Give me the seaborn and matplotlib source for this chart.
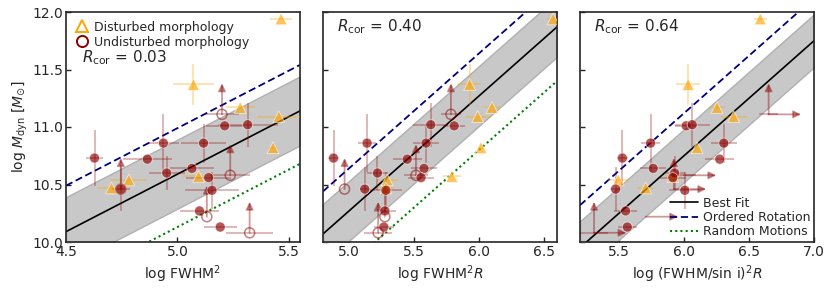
import numpy as np
import pandas as pd
import matplotlib
matplotlib.use("Agg")
import matplotlib.pyplot as plt
import seaborn as sns
from matplotlib.lines import Line2D

# ---------------- data ----------------
# shared log M_dyn values
Y_DIST = [11.94, 11.37, 11.17, 11.09, 10.82, 10.57, 10.54, 10.47]
Y_FILL = [10.73, 10.46, 10.72, 10.86, 10.60, 10.64, 10.86, 10.56, 10.45, 10.27, 10.13, 11.01, 11.02]
Y_OPEN = [10.46, 11.11, 10.58, 10.22, 10.08]
YERR_DIST = [0.0, 0.18, 0.0, 0.0, 0.0, 0.0, 0.0, 0.0]
YERR_FILL = [0.24, 0.19, 0.0, 0.25, 0.15, 0.0, 0.17, 0.0, 0.16, 0.0, 0.0, 0.0, 0.19]

# panel 1: log FWHM^2
X1_DIST = [5.465, 5.072, 5.282, 5.455, 5.429, 5.095, 4.782, 4.704]
X1_FILL = [4.628, 4.746, 4.865, 4.937, 4.952, 5.065, 5.117, 5.140, 5.155, 5.099, 5.192, 5.212, 5.315]
X1_OPEN = [4.746, 5.200, 5.237, 5.132, 5.324]
# panel 2: log FWHM^2 R
X2_DIST = [6.570, 5.928, 6.100, 5.990, 6.015, 5.791, 5.294, 5.284]
X2_FILL = [4.881, 5.121, 5.448, 5.139, 5.219, 5.577, 5.593, 5.554, 5.284, 5.276, 5.268, 5.809, 5.629]
X2_OPEN = [4.966, 5.784, 5.515, 5.276, 5.224]
# panel 3: log (FWHM/sin i)^2 R
X3_DIST = [6.587, 6.032, 6.254, 6.382, 6.101, 5.914, 5.495, 5.705]
X3_FILL = [5.526, 5.474, 6.275, 5.743, 5.928, 5.763, 6.306, 5.914, 6.006, 5.551, 5.564, 6.017, 6.063]
X3_OPEN = [5.922, 6.651, 5.999, 5.705, 5.308]
OPEN3_UP = [True, True, False, False, True]

XERR_DIST = [0.05, 0.09, 0.064, 0.10, 0.02, 0.068, 0.08, 0.065]
XERR_FILL = [0.04, 0.04, 0.11, 0.07, 0.08, 0.10, 0.10, 0.10, 0.12, 0.086, 0.075, 0.086, 0.135]
XERR_OPEN = [0.0, 0.075, 0.09, 0.0, 0.105]

# relation lines: y = x + intercept
FIT_INT = [5.59, 5.27, 4.75]
FIT_BAND = [0.30, 0.26, 0.23]
ROT_INT = [5.99, 5.64, 5.12]
RAND_INT = [5.13, 4.80, None]
RCOR = ["0.03", "0.40", "0.64"]

XLIMS = [(4.5, 5.55), (4.8, 6.6), (5.2, 7.0)]
XTICKS = [[4.5, 5.0, 5.5], [5.0, 5.5, 6.0, 6.5], [5.5, 6.0, 6.5, 7.0]]
YTICKS = [10.0, 10.5, 11.0, 11.5, 12.0]
XLABELS = [r"log FWHM$^2$", r"log FWHM$^2R$", r"log (FWHM/sin i)$^2R$"]
YLABEL = r"log $M_{\rm dyn}$ [$M_{\odot}$]"

LIM_UP = 0.27
LIM_RIGHT = 0.25

# ---------------- style ----------------
sns.set_style("ticks")
plt.rcParams["font.family"] = ["DejaVu Sans"]
plt.rcParams["mathtext.fontset"] = "dejavusans"

ORANGE = "#FFA500"
DRED = "#8B0000"

fig = plt.figure(figsize=(8.3, 2.91), dpi=100)
lefts = [66 / 830, 323 / 830, 580 / 830]
W = 234 / 830
B = 49 / 291
H = 230 / 291

XD = [X1_DIST, X2_DIST, X3_DIST]
XF = [X1_FILL, X2_FILL, X3_FILL]
XO = [X1_OPEN, X2_OPEN, X3_OPEN]

for i in range(3):
    ax = fig.add_axes([lefts[i], B, W, H])
    xlo, xhi = XLIMS[i]
    xx = np.linspace(xlo, xhi, 50)

    # band + lines
    ax.fill_between(xx, xx + FIT_INT[i] - FIT_BAND[i], xx + FIT_INT[i] + FIT_BAND[i],
                    facecolor="#c8c8c8", edgecolor="#b0b0b0", lw=1.0, zorder=1)
    ax.plot(xx, xx + FIT_INT[i], color="black", lw=1.2, zorder=2)
    ax.plot(xx, xx + ROT_INT[i], color="navy", lw=1.3, ls=(0, (4, 2)), zorder=2)
    if RAND_INT[i] is not None:
        ax.plot(xx, xx + RAND_INT[i], color="green", lw=1.5, ls=(0, (1, 1.5)), zorder=2)

    # error bars
    ax.errorbar(XD[i], Y_DIST, xerr=XERR_DIST, yerr=YERR_DIST, fmt="none",
                ecolor=ORANGE, alpha=0.35, elinewidth=1.3, zorder=3)
    ax.errorbar(XF[i], Y_FILL, xerr=XERR_FILL, yerr=YERR_FILL, fmt="none",
                ecolor=DRED, alpha=0.3, elinewidth=1.3, zorder=3)
    ax.errorbar(XO[i], Y_OPEN, xerr=XERR_OPEN, fmt="none",
                ecolor=DRED, alpha=0.3, elinewidth=1.3, zorder=3)

    # lower-limit arrows
    for k, (xo, yo) in enumerate(zip(XO[i], Y_OPEN)):
        up = True if i < 2 else OPEN3_UP[k]
        if up:
            ax.annotate("", xy=(xo, yo + LIM_UP), xytext=(xo, yo),
                        arrowprops=dict(arrowstyle="-|>", color=DRED, alpha=0.4,
                                        lw=1.3, mutation_scale=11, shrinkA=0, shrinkB=0),
                        zorder=3)
        if i == 2:
            ax.annotate("", xy=(xo + LIM_RIGHT, yo), xytext=(xo, yo),
                        arrowprops=dict(arrowstyle="-|>", color=DRED, alpha=0.4,
                                        lw=1.3, mutation_scale=11, shrinkA=0, shrinkB=0),
                        zorder=3)

    # markers
    df = pd.DataFrame({
        "x": list(XD[i]) + list(XF[i]),
        "y": Y_DIST + Y_FILL,
        "group": ["Disturbed"] * len(Y_DIST) + ["Undisturbed"] * len(Y_FILL),
    })
    sns.scatterplot(data=df, x="x", y="y", hue="group", style="group",
                    markers={"Disturbed": "^", "Undisturbed": "o"},
                    palette={"Disturbed": ORANGE, "Undisturbed": DRED},
                    size="group", sizes={"Disturbed": 72, "Undisturbed": 52},
                    alpha=0.65, linewidth=0.6, legend=False, ax=ax, zorder=4)
    if i < 2:
        ax.scatter(XO[i], Y_OPEN, s=52, facecolors="none", edgecolors=DRED,
                   alpha=0.5, linewidths=1.1, zorder=4)

    ax.set_xlim(xlo, xhi)
    ax.set_ylim(10.0, 12.0)
    ax.set_xticks(XTICKS[i])
    ax.set_xticklabels([f"{t:.1f}" for t in XTICKS[i]])
    ax.set_yticks(YTICKS)
    if i == 0:
        ax.set_yticklabels([f"{t:.1f}" for t in YTICKS])
        ax.set_ylabel(YLABEL, fontsize=10, labelpad=2)
    else:
        ax.set_yticklabels([])
        ax.set_ylabel("")
    ax.set_xlabel(XLABELS[i], fontsize=10, labelpad=3)
    ax.tick_params(direction="in", labelsize=10, length=3.5, width=1, pad=2)
    for s in ax.spines.values():
        s.set_linewidth(1.2)
        s.set_visible(True)

    if i == 0:
        h = [Line2D([], [], marker="^", ls="none", mfc="none", mec=ORANGE, ms=8, mew=1.4),
             Line2D([], [], marker="o", ls="none", mfc="none", mec=DRED, ms=8, mew=1.4)]
        ax.legend(h, ["Disturbed morphology", "Undisturbed morphology"], loc="upper left",
                  frameon=False, fontsize=9, handletextpad=0.3, borderaxespad=0.1,
                  labelspacing=0.15, borderpad=0.6, handlelength=1.2)
        ax.text(0.07, 0.80, r"$R_{\rm cor}$ = " + RCOR[i], transform=ax.transAxes,
                fontsize=11, va="center", ha="left")
    else:
        ax.text(0.06, 0.935, r"$R_{\rm cor}$ = " + RCOR[i], transform=ax.transAxes,
                fontsize=11, va="center", ha="left")

    if i == 2:
        h = [Line2D([], [], color="black", lw=1.2),
             Line2D([], [], color="navy", lw=1.3, ls=(0, (4, 2))),
             Line2D([], [], color="green", lw=1.5, ls=(0, (1, 1.5)))]
        ax.legend(h, ["Best Fit", "Ordered Rotation", "Random Motions"], loc="lower right",
                  frameon=False, fontsize=9, handlelength=2.2, handletextpad=0.4,
                  labelspacing=0.1, borderaxespad=0.1, borderpad=0.2)

fig.savefig("out.png", dpi=100)
